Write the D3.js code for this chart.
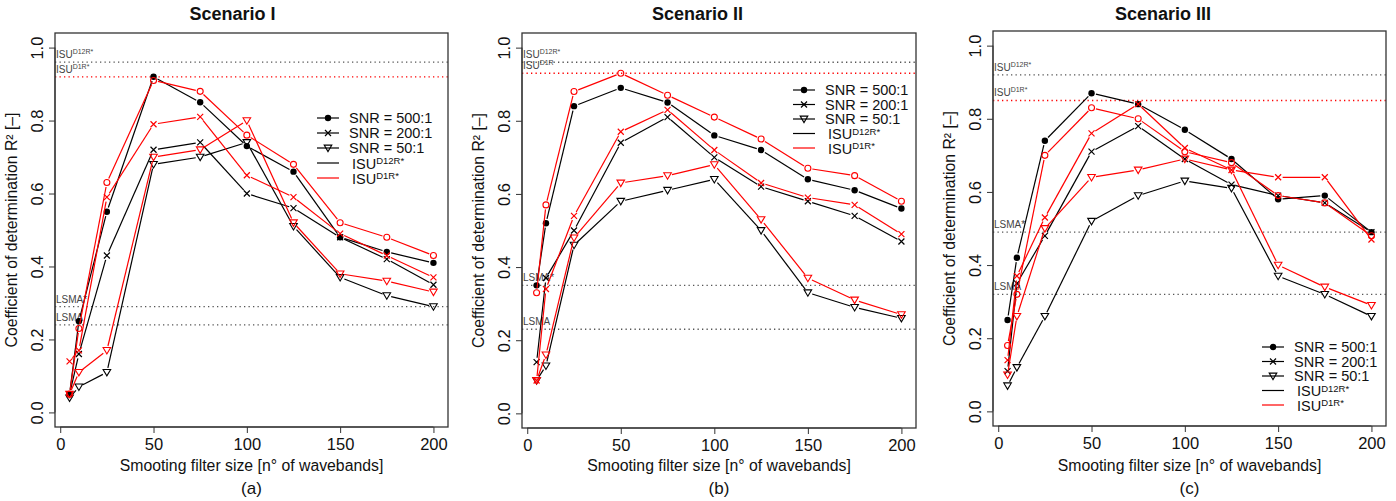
<!DOCTYPE html>
<html>
<head>
<meta charset="utf-8">
<script src="https://cdn.jsdelivr.net/npm/d3@7"></script>
<style>
  html, body { margin: 0; padding: 0; background: #fff; }
  svg { display: block; }
  text { font-family: "Liberation Sans", Arial, sans-serif; }
</style>
</head>
<body>
<svg id="chart" width="1396" height="501"></svg>
<script>
// ---------------- DATA ----------------
const xValues = [5, 10, 25, 50, 75, 100, 125, 150, 175, 200];
const xTicks = [0, 50, 100, 150, 200];
const yTicks = [0, 0.2, 0.4, 0.6, 0.8, 1.0];
const yTickLabels = ["0.0", "0.2", "0.4", "0.6", "0.8", "1.0"];
const scenarioTitles = ["Scenario I", "Scenario II", "Scenario III"];
const panelLabels = ["(a)", "(b)", "(c)"];
const snrLabels = ["SNR = 500:1", "SNR = 200:1", "SNR = 50:1"];
const isuLabels = ["D12R*", "D1R*"];

// Scenario I
const s1_D12R_500 = [0.05, 0.25, 0.55, 0.92, 0.85, 0.73, 0.66, 0.48, 0.44, 0.41];
const s1_D12R_200 = [0.05, 0.16, 0.43, 0.72, 0.74, 0.60, 0.56, 0.48, 0.42, 0.35];
const s1_D12R_50  = [0.04, 0.07, 0.11, 0.68, 0.70, 0.74, 0.51, 0.37, 0.32, 0.29];
const s1_D1R_500  = [0.05, 0.23, 0.63, 0.91, 0.88, 0.76, 0.68, 0.52, 0.48, 0.43];
const s1_D1R_200  = [0.14, 0.17, 0.59, 0.79, 0.81, 0.65, 0.59, 0.49, 0.43, 0.37];
const s1_D1R_50   = [0.05, 0.11, 0.17, 0.70, 0.72, 0.80, 0.52, 0.38, 0.36, 0.33];
// Scenario II
const s2_D12R_500 = [0.35, 0.52, 0.84, 0.89, 0.85, 0.76, 0.72, 0.64, 0.61, 0.56];
const s2_D12R_200 = [0.14, 0.37, 0.50, 0.74, 0.81, 0.70, 0.62, 0.58, 0.54, 0.47];
const s2_D12R_50  = [0.09, 0.13, 0.46, 0.58, 0.61, 0.64, 0.50, 0.33, 0.29, 0.26];
const s2_D1R_500  = [0.33, 0.57, 0.88, 0.93, 0.87, 0.81, 0.75, 0.67, 0.65, 0.58];
const s2_D1R_200  = [0.09, 0.34, 0.54, 0.77, 0.83, 0.72, 0.63, 0.59, 0.57, 0.49];
const s2_D1R_50   = [0.09, 0.16, 0.48, 0.63, 0.65, 0.68, 0.53, 0.37, 0.31, 0.27];
// Scenario III
const s3_D12R_500 = [0.25, 0.42, 0.74, 0.87, 0.84, 0.77, 0.69, 0.58, 0.59, 0.49];
const s3_D12R_200 = [0.11, 0.35, 0.48, 0.71, 0.78, 0.69, 0.62, 0.59, 0.57, 0.49];
const s3_D12R_50  = [0.07, 0.12, 0.26, 0.52, 0.59, 0.63, 0.61, 0.37, 0.32, 0.26];
const s3_D1R_500  = [0.18, 0.32, 0.70, 0.83, 0.80, 0.71, 0.68, 0.59, 0.57, 0.48];
const s3_D1R_200  = [0.14, 0.37, 0.53, 0.76, 0.84, 0.72, 0.66, 0.64, 0.64, 0.47];
const s3_D1R_50   = [0.10, 0.26, 0.50, 0.64, 0.66, 0.69, 0.66, 0.40, 0.34, 0.29];

// Reference (benchmark) lines: ISU D12R*, ISU D1R*, LSMA*, LSMA
const s1_refValues = [0.96, 0.92, 0.29, 0.24];
const s2_refValues = [0.96, 0.93, 0.35, 0.23];
const s3_refValues = [0.92, 0.85, 0.49, 0.32];
const refBase = ["ISU", "ISU", "LSMA*", "LSMA"];
const s1_refSup = ["D12R*", "D1R*", "", ""];
const s2_refSup = ["D12R*", "D1R", "", ""];
const s3_refSup = ["D12R*", "D1R*", "", ""];

// ---------------- LAYOUT ----------------
const RED = "#ff0000";
const panels = [
  { box: [55, 33, 448, 427],   fig: [0, 465],     legend: [317, 118, 15],   series: [s1_D12R_500, s1_D12R_200, s1_D12R_50, s1_D1R_500, s1_D1R_200, s1_D1R_50], refs: s1_refValues, sup: s1_refSup },
  { box: [522, 33, 916, 428],  fig: [465, 930],   legend: [793, 90, 14.5],  series: [s2_D12R_500, s2_D12R_200, s2_D12R_50, s2_D1R_500, s2_D1R_200, s2_D1R_50], refs: s2_refValues, sup: s2_refSup },
  { box: [993, 31, 1386, 426], fig: [930, 1396],  legend: [1262, 347, 14.5], series: [s3_D12R_500, s3_D12R_200, s3_D12R_50, s3_D1R_500, s3_D1R_200, s3_D1R_50], refs: s3_refValues, sup: s3_refSup }
];
const seriesStyle = [
  { color: "#000", sym: "dot" }, { color: "#000", sym: "cross" }, { color: "#000", sym: "tri" },
  { color: RED, sym: "circle" }, { color: RED, sym: "cross" }, { color: RED, sym: "tri" }
];
const refColors = ["#555", RED, "#555", "#555"];

const svg = d3.select("#chart");

function drawSymbol(g, sym, color, cx, cy) {
  if (sym === "dot") {
    g.append("circle").attr("cx", cx).attr("cy", cy).attr("r", 3.2).attr("fill", color);
  } else if (sym === "circle") {
    g.append("circle").attr("cx", cx).attr("cy", cy).attr("r", 3).attr("fill", "none").attr("stroke", color).attr("stroke-width", 1.1);
  } else if (sym === "cross") {
    const s = 3;
    g.append("path").attr("d", `M${cx - s},${cy - s}L${cx + s},${cy + s}M${cx - s},${cy + s}L${cx + s},${cy - s}`)
      .attr("stroke", color).attr("stroke-width", 1.2).attr("fill", "none");
  } else if (sym === "tri") {
    const s = 3.8;
    g.append("path").attr("d", `M${cx - s},${cy - s * 0.75}L${cx + s},${cy - s * 0.75}L${cx},${cy + s * 0.95}Z`)
      .attr("stroke", color).attr("stroke-width", 1.1).attr("fill", "none");
  }
}

panels.forEach((p, i) => {
  const [L, T, R, B] = p.box;
  const g = svg.append("g");
  const x = d3.scaleLinear().domain([-2.8, 207.8]).range([L, R]);
  const y = d3.scaleLinear().domain([-0.04, 1.04]).range([B, T]);

  // reference lines
  p.refs.forEach((v, k) => {
    g.append("line").attr("x1", L).attr("x2", R).attr("y1", y(v)).attr("y2", y(v))
      .attr("stroke", refColors[k]).attr("stroke-width", 1.3).attr("stroke-dasharray", "1.3,3.2");
    const t = g.append("text").attr("x", L + 1).attr("y", y(v) - 4)
      .attr("font-size", 10).attr("fill", "#444").text(refBase[k]);
    if (p.sup[k]) {
      t.append("tspan").attr("dy", -4).attr("font-size", 7).text(p.sup[k]);
    }
  });

  // series
  p.series.forEach((vals, si) => {
    const st = seriesStyle[si];
    const pts = vals.map((v, j) => [x(xValues[j]), y(v)]);
    const gap = 4.5;
    for (let j = 0; j < pts.length - 1; j++) {
      const [x1, y1] = pts[j], [x2, y2] = pts[j + 1];
      const d = Math.hypot(x2 - x1, y2 - y1);
      if (d <= 2 * gap) continue;
      const ux = (x2 - x1) / d, uy = (y2 - y1) / d;
      g.append("line").attr("x1", x1 + ux * gap).attr("y1", y1 + uy * gap)
        .attr("x2", x2 - ux * gap).attr("y2", y2 - uy * gap)
        .attr("stroke", st.color).attr("stroke-width", 1.2);
    }
    pts.forEach(([cx, cy]) => drawSymbol(g, st.sym, st.color, cx, cy));
  });

  // box
  g.append("rect").attr("x", L).attr("y", T).attr("width", R - L).attr("height", B - T)
    .attr("fill", "none").attr("stroke", "#333").attr("stroke-width", 1.3);

  // x axis
  const xAxis = d3.axisBottom(x).tickValues(xTicks).tickSize(6).tickPadding(5).tickFormat(d3.format("d"));
  const xa = g.append("g").attr("transform", `translate(0,${B})`).call(xAxis);
  xa.select(".domain").attr("d", `M${x(0)},0H${x(200)}`).attr("stroke", "#333");
  xa.selectAll(".tick line").attr("stroke", "#333");
  xa.selectAll(".tick text").attr("font-size", 16.5).attr("fill", "#111").attr("font-family", "Liberation Sans, Arial, sans-serif");

  // y axis
  const yAxis = d3.axisLeft(y).tickValues(yTicks).tickSize(6).tickFormat((d, k) => yTickLabels[k]);
  const ya = g.append("g").attr("transform", `translate(${L},0)`).call(yAxis);
  ya.select(".domain").attr("d", `M0,${y(0)}V${y(1)}`).attr("stroke", "#333");
  ya.selectAll(".tick line").attr("stroke", "#333");
  ya.selectAll(".tick text")
    .attr("font-size", 16.5).attr("fill", "#111").attr("font-family", "Liberation Sans, Arial, sans-serif")
    .attr("x", null).attr("dy", null)
    .attr("text-anchor", "middle")
    .attr("transform", "translate(-12,0) rotate(-90)");

  // titles
  const cx = (L + R) / 2;
  const figCx = (p.fig[0] + p.fig[1]) / 2;
  g.append("text").attr("x", figCx).attr("y", 20).attr("text-anchor", "middle")
    .attr("font-size", 18).attr("font-weight", "bold").attr("fill", "#111").text(scenarioTitles[i]);
  g.append("text").attr("x", cx).attr("y", 471).attr("text-anchor", "middle")
    .attr("font-size", 15.8).attr("fill", "#111").text("Smooting filter size [n\u00b0 of wavebands]");
  g.append("text").attr("transform", `translate(${L - 38},${(T + B) / 2}) rotate(-90)`).attr("text-anchor", "middle")
    .attr("font-size", 15.8).attr("fill", "#111").text("Coefficient of determination R\u00b2 [\u2013]");
  g.append("text").attr("x", cx).attr("y", 494).attr("text-anchor", "middle")
    .attr("font-size", 17).attr("fill", "#111").attr("font-family", "Liberation Serif, Times New Roman, serif")
    .text(panelLabels[i]);

  // legend
  const [lx, ly, dy] = p.legend;
  const lg = g.append("g");
  const entries = [
    { color: "#000", sym: "dot", label: snrLabels[0] },
    { color: "#000", sym: "cross", label: snrLabels[1] },
    { color: "#000", sym: "tri", label: snrLabels[2] },
    { color: "#000", sym: null, label: "ISU", sup: isuLabels[0] },
    { color: RED, sym: null, label: "ISU", sup: isuLabels[1] }
  ];
  entries.forEach((e, k) => {
    const yy = ly + k * dy;
    lg.append("line").attr("x1", lx).attr("x2", lx + 22).attr("y1", yy).attr("y2", yy)
      .attr("stroke", e.color).attr("stroke-width", 1.2);
    if (e.sym) drawSymbol(lg, e.sym, e.color, lx + 11, yy);
    const t = lg.append("text").attr("x", lx + (e.sup ? 35 : 32)).attr("y", yy + (e.sup ? 5.5 : 5))
      .attr("font-size", 14.5).attr("fill", "#111").text(e.label);
    if (e.sup) t.append("tspan").attr("dy", -4.5).attr("font-size", 9.5).text(e.sup);
  });
});
</script>
</body>
</html>
